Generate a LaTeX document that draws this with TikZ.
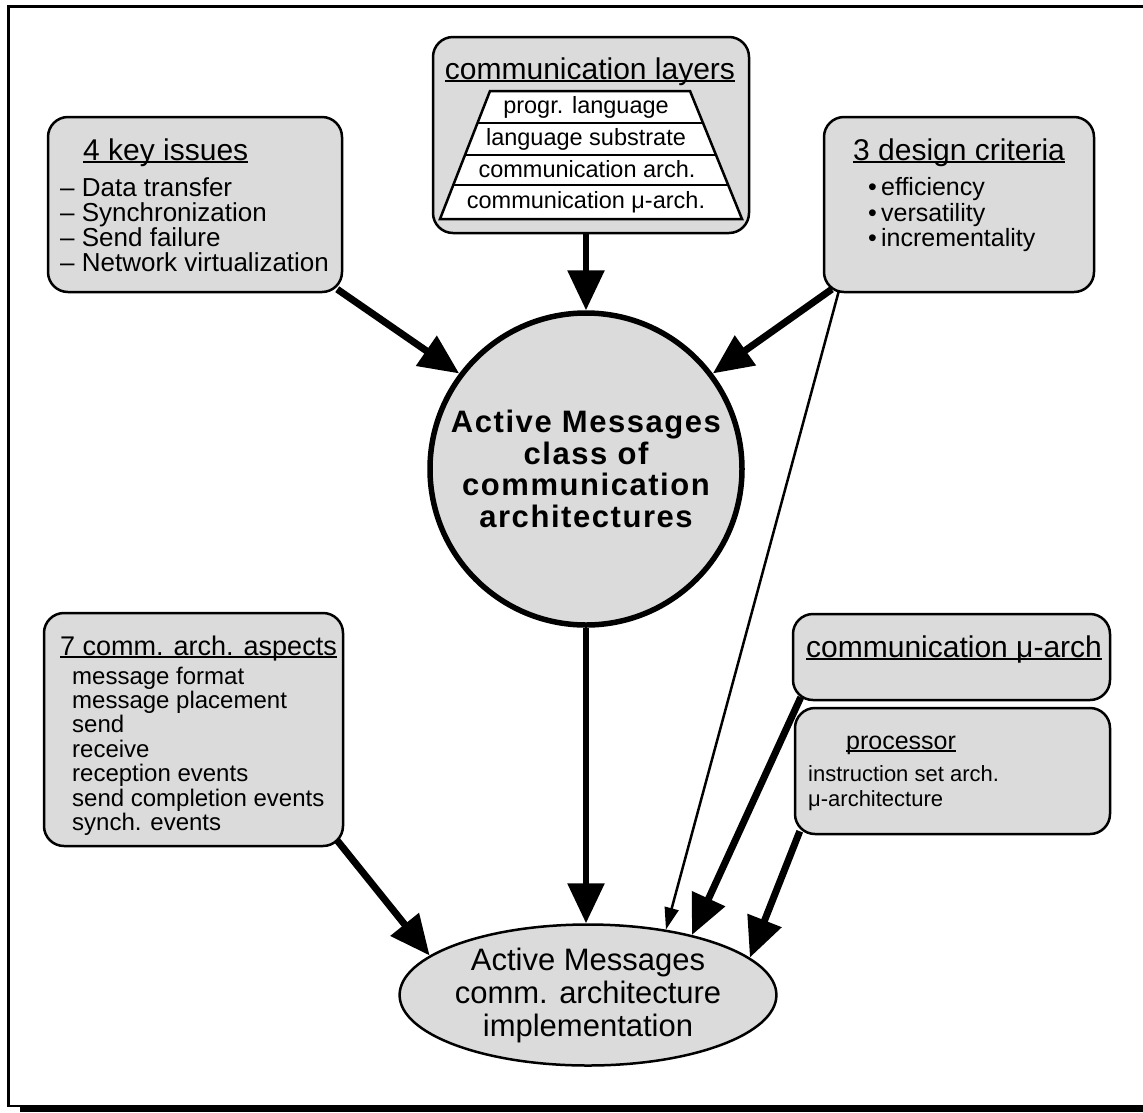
\documentclass[tikz,border=0pt]{standalone}
\usepackage{fontspec}
\setmainfont{Liberation Sans}
\newfontfamily\spacedbold[LetterSpace=5]{Liberation Sans Bold}
\usetikzlibrary{arrows.meta,shapes.geometric,backgrounds,calc}
\definecolor{boxgray}{gray}{0.86}
% underline that sits just below the baseline (descenders cross it)
\newcommand\ulined[1]{\setbox0\hbox{#1}\rlap{\rule[-3pt]{\wd0}{1.6pt}}\box0}
\newcommand\fs[2]{\fontsize{#1}{#2}\selectfont}
\begin{document}
\begin{tikzpicture}[x=1pt,y=-1pt,
  panel/.style={draw,line width=2.5pt,fill=boxgray,rounded corners=20pt,inner sep=0pt},
  heavy/.style={line width=7pt,-{Triangle[length=40pt,width=35pt]}},
  medium/.style={line width=6pt,-{Triangle[length=40pt,width=36pt]}},
  light/.style={line width=2.5pt,-{Triangle[length=22pt,width=14pt]}},
  lbl/.style={anchor=base west,inner sep=0pt},
  ctr/.style={anchor=base,inner sep=0pt}]
\useasboundingbox (0,0) rectangle (1143,1112);

% page frame with shadow along the bottom
\fill (20,1106) rectangle (1160,1112);
\draw[line width=2.6pt] (8.5,6.5) rectangle (1160,1106);

% ---- panels ----
\node[panel,minimum width=294pt,minimum height=175pt] (k) at (195,204.5) {};
\node[panel,minimum width=316pt,minimum height=196pt] (L) at (591,135) {};
\node[panel,minimum width=270pt,minimum height=175pt] (D) at (959,204.5) {};
\node[panel,minimum width=299pt,minimum height=233pt] (A) at (193.5,729.5) {};
\node[panel,minimum width=317pt,minimum height=86pt]  (U) at (951.5,657) {};
\node[panel,minimum width=315pt,minimum height=126pt] (P) at (952.5,771) {};

% ---- central circle and target ellipse ----
\node[circle,draw,line width=5.5pt,fill=boxgray,minimum size=312pt,inner sep=0pt,
      align=center,font=\fs{31}{31.7}\spacedbold] (C) at (586,469)
  {Active Messages\\class of\\communication\\architectures};
\node[ellipse,draw,line width=2.5pt,fill=boxgray,minimum width=364pt,minimum height=141pt,
      inner sep=0pt,align=center,font=\fs{31}{33}] (E) at (588,995)
  {Active Messages\\comm. architecture\\implementation};

% ---- 4 key issues ----
\node[lbl,font=\fs{30}{30}] (kt) at (83,160) {\ulined{4 key issues}};
\foreach \t [count=\i] in {Data transfer,Synchronization,Send failure,Network virtualization}
  \node[lbl,font=\fs{26}{26}] (k\i) at (60,{171+25*\i}) {– \t};

% ---- communication layers ----
\node[ctr,font=\fs{30}{30}] (Lt) at (590,79) {\ulined{communication layers}};
\draw[line width=2.5pt,fill=white] (490,91) -- (690,91) -- (742,219) -- (440,219) -- cycle;
\draw[line width=2.5pt] (477.5,123) -- (703,123) (465,155) -- (716,155) (453.3,185) -- (728.2,185);
\node[ctr,font=\fs{23.5}{23.5}] (l1) at (586,113) {progr. language};
\node[ctr,font=\fs{23.5}{23.5}] (l2) at (586,145) {language substrate};
\node[ctr,font=\fs{23.5}{23.5}] (l3) at (587,177) {communication arch.};
\node[ctr,font=\fs{23.5}{23.5}] (l4) at (586,208) {communication μ-arch.};

% ---- 3 design criteria ----
\node[lbl,font=\fs{30}{30}] (Dt) at (853,160) {\ulined{3 design criteria}};
\foreach \t [count=\i] in {efficiency,versatility,incrementality}
  \node[lbl,font=\fs{25}{25}] (d\i) at (868,{170+25.5*\i}) {•\,\t};

% ---- 7 comm. arch. aspects ----
\node[lbl,font=\fs{27}{27}] (At) at (60,655) {\ulined{7 comm. arch. aspects}};
\foreach \t [count=\i] in {message format,message placement,send,receive,reception events,send completion events,synch. events}
  \node[lbl,font=\fs{24}{24}] (a\i) at (72,{659.6+24.4*\i}) {\t};

% ---- communication mu-arch ----
\node[lbl,font=\fs{30}{30}] (Ut) at (806,657) {\ulined{communication μ-arch}};

% ---- processor ----
\node[lbl,font=\fs{25}{25}] (Pt) at (846,749) {\ulined{processor}};
\node[lbl,font=\fs{22}{22}] (p1) at (808,781) {instruction set arch.};
\node[lbl,font=\fs{22}{22}] (p2) at (808,806) {μ-architecture};

% ---- connectors ----
\begin{pgfonlayer}{background}
  \draw[heavy] ($(k.south east)+(-6,-4)$) -- (C.143.9);
  \draw[medium] (C.north |- L.south) -- (C.north);
  \draw[heavy] ($(D.south west)+(9,-4)$) -- (C.37.7);
  \draw[light] ($(D.south west)+(16,-2)$) -- (E.40);
  \draw[medium] (C.south) -- (C.south |- E.north);
  \draw[heavy] ($(A.south east)+(-8,-8)$) -- (E.166.6);
  \draw[heavy] ($(U.south west)+(9,-4)$) -- (E.30.5);
  \draw[heavy] ($(P.south west)+(6,-4)$) -- (E.13.9);
\end{pgfonlayer}
\end{tikzpicture}
\end{document}
